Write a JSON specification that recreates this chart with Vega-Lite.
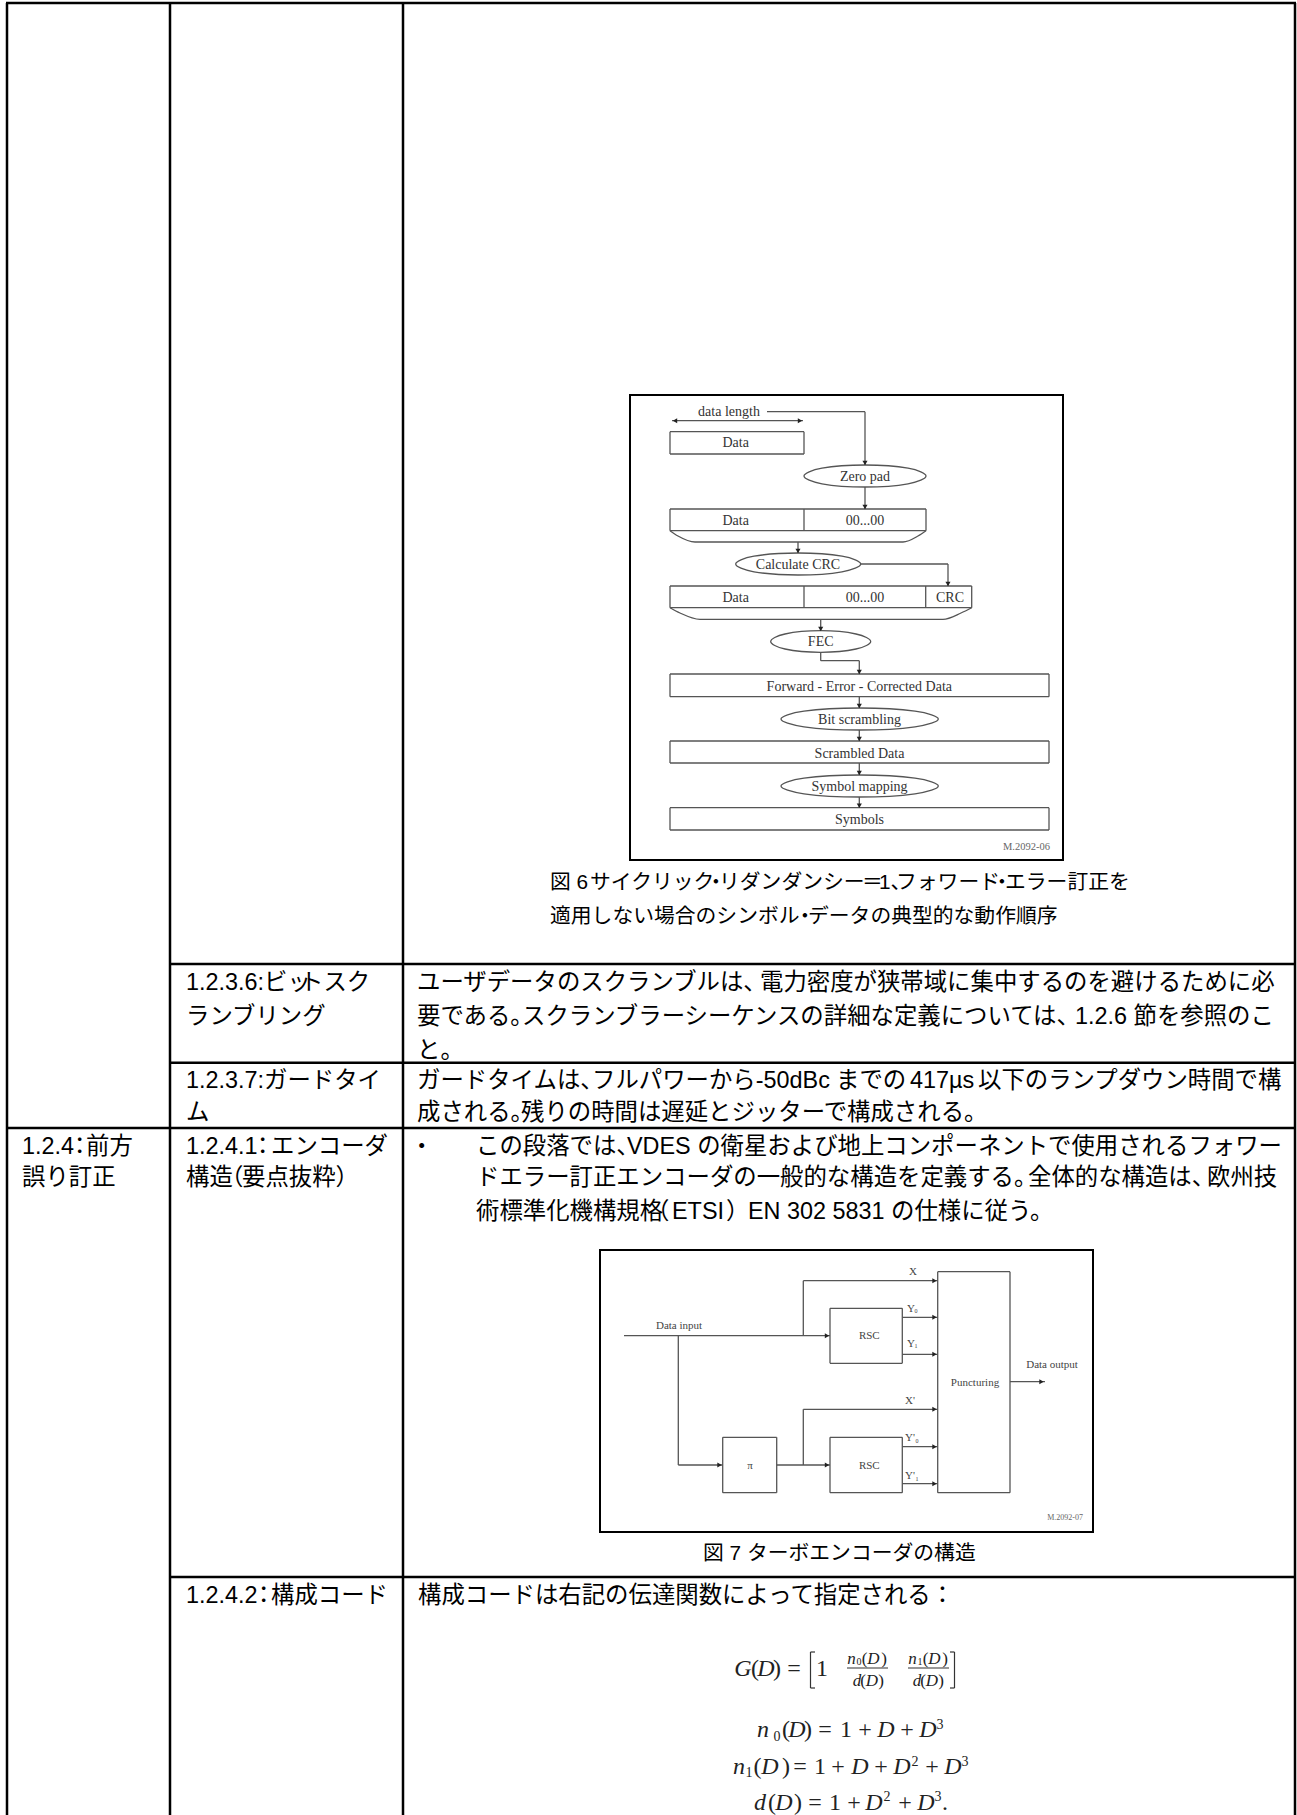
{
"$schema":"https://vega.github.io/schema/vega-lite/v6.json",
"width":1297,"height":1815,"padding":0,"autosize":{"type":"none"},
"background":"white","view":{"stroke":null},
"datasets":{
"table":[
{"x":7,"y":3,"x2":7,"y2":1815},{"x":170,"y":3,"x2":170,"y2":1815},{"x":403,"y":3,"x2":403,"y2":1815},{"x":1295,"y":3,"x2":1295,"y2":1815},
{"x":6,"y":3,"x2":1296,"y2":3},{"x":170,"y":964,"x2":1295,"y2":964},{"x":170,"y":1062.7,"x2":1295,"y2":1062.7},{"x":7,"y":1128,"x2":1295,"y2":1128},{"x":170,"y":1577,"x2":1295,"y2":1577}
],
"frames":[
{"x":629,"y":395,"x2":1064,"y2":395},{"x":629,"y":860,"x2":1064,"y2":860},{"x":630,"y":395,"x2":630,"y2":860},{"x":1063,"y":395,"x2":1063,"y2":860},
{"x":599,"y":1250,"x2":1094,"y2":1250},{"x":599,"y":1532,"x2":1094,"y2":1532},{"x":600,"y":1250,"x2":600,"y2":1532},{"x":1093,"y":1250,"x2":1093,"y2":1532}
],
"seg":[
{"x":672,"y":420.7,"x2":803,"y2":420.7},{"x":767,"y":411.7,"x2":865,"y2":411.7},{"x":865,"y":411.7,"x2":865,"y2":465},
{"x":670,"y":431.7,"x2":804,"y2":431.7},{"x":670,"y":454,"x2":804,"y2":454},{"x":670,"y":431.7,"x2":670,"y2":454},{"x":804,"y":431.7,"x2":804,"y2":454},
{"x":865,"y":487,"x2":865,"y2":509},
{"x":670,"y":509,"x2":926,"y2":509},{"x":670,"y":530.7,"x2":926,"y2":530.7},{"x":670,"y":509,"x2":670,"y2":530.7},{"x":804,"y":509,"x2":804,"y2":530.7},{"x":926,"y":509,"x2":926,"y2":530.7},
{"x":798,"y":542,"x2":798,"y2":553},
{"x":860.7,"y":564,"x2":948,"y2":564},{"x":948,"y":564,"x2":948,"y2":586},
{"x":670,"y":586,"x2":971.7,"y2":586},{"x":670,"y":607.7,"x2":971.7,"y2":607.7},{"x":670,"y":586,"x2":670,"y2":607.7},{"x":804,"y":586,"x2":804,"y2":607.7},{"x":925.7,"y":586,"x2":925.7,"y2":607.7},{"x":971.7,"y":586,"x2":971.7,"y2":607.7},
{"x":820.7,"y":619.3,"x2":820.7,"y2":630.7},
{"x":820.7,"y":652.3,"x2":820.7,"y2":660.7},{"x":820.7,"y":660.7,"x2":859.3,"y2":660.7},{"x":859.3,"y":660.7,"x2":859.3,"y2":674},
{"x":670,"y":674,"x2":1049,"y2":674},{"x":670,"y":696.7,"x2":1049,"y2":696.7},{"x":670,"y":674,"x2":670,"y2":696.7},{"x":1049,"y":674,"x2":1049,"y2":696.7},
{"x":859.3,"y":696.7,"x2":859.3,"y2":708},{"x":859.3,"y":730,"x2":859.3,"y2":741},
{"x":670,"y":741,"x2":1049,"y2":741},{"x":670,"y":763,"x2":1049,"y2":763},{"x":670,"y":741,"x2":670,"y2":763},{"x":1049,"y":741,"x2":1049,"y2":763},
{"x":859.3,"y":763,"x2":859.3,"y2":775},{"x":859.3,"y":797,"x2":859.3,"y2":807.7},
{"x":670,"y":807.7,"x2":1049,"y2":807.7},{"x":670,"y":830,"x2":1049,"y2":830},{"x":670,"y":807.7,"x2":670,"y2":830},{"x":1049,"y":807.7,"x2":1049,"y2":830},
{"x":624,"y":1335.7,"x2":830,"y2":1335.7},{"x":803.3,"y":1335.7,"x2":803.3,"y2":1280.7},{"x":803.3,"y":1280.7,"x2":937.7,"y2":1280.7},
{"x":830,"y":1308.3,"x2":902.3,"y2":1308.3},{"x":830,"y":1363.3,"x2":902.3,"y2":1363.3},{"x":830,"y":1308.3,"x2":830,"y2":1363.3},{"x":902.3,"y":1308.3,"x2":902.3,"y2":1363.3},
{"x":902.3,"y":1317.3,"x2":937.7,"y2":1317.3},{"x":902.3,"y":1354.3,"x2":937.7,"y2":1354.3},
{"x":937.7,"y":1271.7,"x2":1010,"y2":1271.7},{"x":937.7,"y":1492.7,"x2":1010,"y2":1492.7},{"x":937.7,"y":1271.7,"x2":937.7,"y2":1492.7},{"x":1010,"y":1271.7,"x2":1010,"y2":1492.7},
{"x":1010,"y":1381.7,"x2":1045,"y2":1381.7},
{"x":678.3,"y":1335.7,"x2":678.3,"y2":1465},{"x":678.3,"y":1465,"x2":722.7,"y2":1465},
{"x":722.7,"y":1437.3,"x2":776.7,"y2":1437.3},{"x":722.7,"y":1492.7,"x2":776.7,"y2":1492.7},{"x":722.7,"y":1437.3,"x2":722.7,"y2":1492.7},{"x":776.7,"y":1437.3,"x2":776.7,"y2":1492.7},
{"x":776.7,"y":1465,"x2":830,"y2":1465},{"x":803.3,"y":1465,"x2":803.3,"y2":1409.3},{"x":803.3,"y":1409.3,"x2":937.7,"y2":1409.3},
{"x":830,"y":1437.3,"x2":902.3,"y2":1437.3},{"x":830,"y":1492.7,"x2":902.3,"y2":1492.7},{"x":830,"y":1437.3,"x2":830,"y2":1492.7},{"x":902.3,"y":1437.3,"x2":902.3,"y2":1492.7},
{"x":902.3,"y":1446.7,"x2":937.7,"y2":1446.7},{"x":902.3,"y":1483.7,"x2":937.7,"y2":1483.7}
],
"curves":[
{"id":"b1","i":0,"x":670,"y":530.7},{"id":"b1","i":1,"x":678,"y":536},{"id":"b1","i":2,"x":695,"y":542},{"id":"b1","i":3,"x":903,"y":542},{"id":"b1","i":4,"x":918,"y":536},{"id":"b1","i":5,"x":926,"y":530.7},
{"id":"b2","i":0,"x":670,"y":607.7},{"id":"b2","i":1,"x":680,"y":613},{"id":"b2","i":2,"x":700,"y":619.3},{"id":"b2","i":3,"x":943,"y":619.3},{"id":"b2","i":4,"x":961,"y":613},{"id":"b2","i":5,"x":971.7,"y":607.7}
],
"ell":[
{"id":"e1","i":0,"x":926,"y":476},{"id":"e1","i":1,"x":908,"y":483.8},{"id":"e1","i":2,"x":865,"y":487},{"id":"e1","i":3,"x":822,"y":483.8},{"id":"e1","i":4,"x":804,"y":476},{"id":"e1","i":5,"x":822,"y":468.2},{"id":"e1","i":6,"x":865,"y":465},{"id":"e1","i":7,"x":908,"y":468.2},
{"id":"e2","i":0,"x":860.7,"y":564},{"id":"e2","i":1,"x":842,"y":571.8},{"id":"e2","i":2,"x":798,"y":575},{"id":"e2","i":3,"x":754,"y":571.8},{"id":"e2","i":4,"x":735.7,"y":564},{"id":"e2","i":5,"x":754,"y":556.2},{"id":"e2","i":6,"x":798,"y":553},{"id":"e2","i":7,"x":842,"y":556.2},
{"id":"e3","i":0,"x":870.7,"y":641.5},{"id":"e3","i":1,"x":856,"y":649},{"id":"e3","i":2,"x":820.7,"y":652.3},{"id":"e3","i":3,"x":785,"y":649},{"id":"e3","i":4,"x":770.7,"y":641.5},{"id":"e3","i":5,"x":785,"y":634},{"id":"e3","i":6,"x":820.7,"y":630.7},{"id":"e3","i":7,"x":856,"y":634},
{"id":"e4","i":0,"x":938.3,"y":719},{"id":"e4","i":1,"x":915,"y":726.8},{"id":"e4","i":2,"x":859.5,"y":730},{"id":"e4","i":3,"x":804,"y":726.8},{"id":"e4","i":4,"x":781,"y":719},{"id":"e4","i":5,"x":804,"y":711.2},{"id":"e4","i":6,"x":859.5,"y":708},{"id":"e4","i":7,"x":915,"y":711.2},
{"id":"e5","i":0,"x":938.3,"y":786},{"id":"e5","i":1,"x":915,"y":793.8},{"id":"e5","i":2,"x":859.5,"y":797},{"id":"e5","i":3,"x":804,"y":793.8},{"id":"e5","i":4,"x":781,"y":786},{"id":"e5","i":5,"x":804,"y":778.2},{"id":"e5","i":6,"x":859.5,"y":775},{"id":"e5","i":7,"x":915,"y":778.2}
],
"arrows":[
{"x":675,"y":420.7,"d":"left"},{"x":800,"y":420.7,"d":"right"},
{"x":865,"y":463,"d":"down"},{"x":865,"y":507,"d":"down"},{"x":798,"y":551,"d":"down"},{"x":948,"y":584,"d":"down"},{"x":820.7,"y":629,"d":"down"},{"x":859.3,"y":672,"d":"down"},{"x":859.3,"y":706,"d":"down"},{"x":859.3,"y":739,"d":"down"},{"x":859.3,"y":773,"d":"down"},{"x":859.3,"y":805.7,"d":"down"},
{"x":827,"y":1335.7,"d":"right"},{"x":934.5,"y":1280.7,"d":"right"},{"x":934.5,"y":1317.3,"d":"right"},{"x":934.5,"y":1354.3,"d":"right"},{"x":1041.5,"y":1381.7,"d":"right"},{"x":719.5,"y":1465,"d":"right"},{"x":827,"y":1465,"d":"right"},{"x":934.5,"y":1409.3,"d":"right"},{"x":934.5,"y":1446.7,"d":"right"},{"x":934.5,"y":1483.7,"d":"right"}
],
"serif":[
{"t":"data length","x":729,"y":412},{"t":"Data","x":735.7,"y":443},{"t":"Zero pad","x":865,"y":477},{"t":"Data","x":735.7,"y":521},{"t":"00...00","x":865,"y":521},{"t":"Calculate CRC","x":798,"y":565},{"t":"Data","x":735.7,"y":598},{"t":"00...00","x":865,"y":598},{"t":"CRC","x":950,"y":598},{"t":"FEC","x":820.7,"y":642},{"t":"Forward - Error - Corrected Data","x":859.3,"y":687},{"t":"Bit scrambling","x":859.5,"y":720},{"t":"Scrambled Data","x":859.5,"y":754},{"t":"Symbol mapping","x":859.5,"y":787},{"t":"Symbols","x":859.5,"y":820}
],
"serif2":[
{"t":"Data input","x":679,"y":1326},{"t":"Data output","x":1052,"y":1365},{"t":"RSC","x":869.3,"y":1336},{"t":"RSC","x":869.3,"y":1466},{"t":"π","x":750,"y":1466},{"t":"Puncturing","x":975,"y":1383},{"t":"X","x":913,"y":1272},{"t":"Y","x":911,"y":1309},{"t":"Y","x":911,"y":1344},{"t":"X'","x":910,"y":1401},{"t":"Y'","x":910,"y":1438},{"t":"Y'","x":910,"y":1476}
],
"tiny1":[{"t":"M.2092-06","x":1050,"y":847}],
"tiny2":[{"t":"M.2092-07","x":1083,"y":1518}],
"subs":[{"t":"0","x":916,"y":1311},{"t":"1","x":916,"y":1346},{"t":"0","x":917,"y":1441},{"t":"1","x":917,"y":1479}],
"cap":[
{"t":"図 6","x":550,"y":883},{"t":"サイクリック","x":590,"y":883},{"t":"・","x":705.6,"y":883},{"t":"リダンダンシー","x":719,"y":883},{"t":"＝","x":862,"y":883},{"t":"1、","x":879,"y":883},{"t":"フォワード","x":896,"y":883},{"t":"・","x":991.6,"y":883},{"t":"エラー訂正を","x":1005,"y":883},
{"t":"適用しない場合のシンボル","x":550,"y":917},{"t":"・","x":794.5,"y":917},{"t":"データの典型的な動作順序","x":808,"y":917},
{"t":"図 7 ターボエンコーダの構造","x":703,"y":1554}
],
"jp":[
{"t":"1.2.3.6:ビッ","x":186,"y":983},{"t":"トスク","x":300,"y":983},{"t":"ランブリング","x":186,"y":1017},
{"t":"ユーザデータのスクランブルは、","x":417,"y":983},{"t":"電力密度が狭帯域に集中するのを避けるために必","x":760,"y":983},
{"t":"要である。","x":417,"y":1017},{"t":"スクランブラーシーケンスの詳細な定義については、","x":522,"y":1017},{"t":"1.2.6 節を参照のこ","x":1075,"y":1017},
{"t":"と。","x":417,"y":1051},
{"t":"1.2.3.7:ガードタイ","x":186,"y":1081},{"t":"ム","x":186,"y":1113},
{"t":"ガードタイムは、","x":417,"y":1081},{"t":"フルパワーから-50dBc","x":592,"y":1081},{"t":"までの","x":836,"y":1081},{"t":"417µs","x":910,"y":1081},{"t":"以下のランプダウン時間で構","x":978,"y":1081},
{"t":"成される。","x":417,"y":1113},{"t":"残りの時間は遅延とジッターで構成される。","x":521,"y":1113},
{"t":"1.2.4","x":22,"y":1147},{"t":"：","x":68,"y":1147},{"t":"前方","x":86,"y":1147},{"t":"誤り訂正","x":22,"y":1178},
{"t":"1.2.4.1","x":186,"y":1147},{"t":"：","x":251,"y":1147},{"t":"エンコーダ","x":271,"y":1147},
{"t":"構造","x":186,"y":1178},{"t":"（","x":220,"y":1178},{"t":"要点抜粋","x":242,"y":1178},{"t":"）","x":335.5,"y":1178},
{"t":"・","x":410,"y":1147},
{"t":"この段落では、","x":476,"y":1147},{"t":"VDES の衛星および地上コンポーネントで使用されるフォワー","x":627,"y":1147},
{"t":"ドエラー訂正エンコーダの一般的な構造を定義する。","x":476,"y":1178},{"t":"全体的な構造は、","x":1028,"y":1178},{"t":"欧州技","x":1207,"y":1178},
{"t":"術標準化機構規格","x":476,"y":1212},{"t":"（","x":646,"y":1212},{"t":"ETSI","x":672,"y":1212},{"t":"）","x":726,"y":1212},{"t":"EN 302 5831 の仕様に従う。","x":748,"y":1212},
{"t":"1.2.4.2","x":186,"y":1596},{"t":"：","x":252,"y":1596},{"t":"構成コード","x":271,"y":1596},
{"t":"構成コードは右記の伝達関数によって指定される：","x":418,"y":1596}
],
"mi":[
{"t":"G","x":743,"y":1669},{"t":"D","x":766,"y":1669},
{"t":"n","x":763,"y":1730},{"t":"D","x":797,"y":1730},{"t":"D","x":886,"y":1730},{"t":"D","x":928,"y":1730},
{"t":"n","x":739,"y":1767},{"t":"D","x":770,"y":1767},{"t":"D","x":860,"y":1767},{"t":"D","x":902,"y":1767},{"t":"D","x":953,"y":1767},
{"t":"d","x":760,"y":1803},{"t":"D","x":784,"y":1803},{"t":"D","x":874,"y":1803},{"t":"D","x":926,"y":1803}
],
"mis":[
{"t":"n","x":851.5,"y":1659},{"t":"D","x":873.5,"y":1659},{"t":"d","x":857,"y":1681},{"t":"D","x":872,"y":1681},{"t":"n","x":912.5,"y":1659},{"t":"D","x":934.5,"y":1659},{"t":"d","x":917,"y":1681},{"t":"D","x":932,"y":1681}
],
"mr":[
{"t":"(","x":755,"y":1669},{"t":")","x":777,"y":1669},{"t":"=","x":794,"y":1669},{"t":"1","x":822,"y":1669},
{"t":"(","x":786,"y":1730},{"t":")","x":808,"y":1730},{"t":"=","x":825,"y":1730},{"t":"1","x":846,"y":1730},{"t":"+","x":865,"y":1730},{"t":"+","x":907,"y":1730},
{"t":"(","x":757.5,"y":1767},{"t":")","x":786,"y":1767},{"t":"=","x":800,"y":1767},{"t":"1","x":820,"y":1767},{"t":"+","x":838,"y":1767},{"t":"+","x":881,"y":1767},{"t":"+","x":932,"y":1767},
{"t":"(","x":772,"y":1803},{"t":")","x":798,"y":1803},{"t":"=","x":815,"y":1803},{"t":"1","x":835,"y":1803},{"t":"+","x":854,"y":1803},{"t":"+","x":905,"y":1803},{"t":".","x":945,"y":1803}
],
"ms":[
{"t":"3","x":940,"y":1725},{"t":"0","x":777,"y":1737},
{"t":"1","x":749,"y":1773},{"t":"2","x":915,"y":1762},{"t":"3","x":965,"y":1762},
{"t":"2","x":887,"y":1797},{"t":"3","x":938,"y":1797}
],
"msm":[
{"t":"(","x":864.5,"y":1659},{"t":")","x":884,"y":1659},{"t":"(","x":863,"y":1681},{"t":")","x":881,"y":1681},{"t":"(","x":925.5,"y":1659},{"t":")","x":945,"y":1659},{"t":"(","x":923,"y":1681},{"t":")","x":941,"y":1681}
],
"mss":[{"t":"0","x":859,"y":1662},{"t":"1","x":920,"y":1662}],
"mlines":[
{"x":847,"y":1668,"x2":888,"y2":1668},{"x":908,"y":1668,"x2":949,"y2":1668},
{"x":810.5,"y":1652,"x2":810.5,"y2":1688},{"x":810.5,"y":1652,"x2":815,"y2":1652},{"x":810.5,"y":1688,"x2":815,"y2":1688},
{"x":954.5,"y":1652,"x2":954.5,"y2":1688},{"x":950,"y":1652,"x2":954.5,"y2":1652},{"x":950,"y":1688,"x2":954.5,"y2":1688}
]
},
"encoding":{
"x":{"field":"x","type":"quantitative","axis":null,"scale":{"domain":[0,1297],"nice":false,"zero":false}},
"y":{"field":"y","type":"quantitative","axis":null,"scale":{"domain":[1815,0],"nice":false,"zero":false}}
},
"layer":[
{"data":{"name":"seg"},"mark":{"type":"rule","stroke":"#555","strokeWidth":1.3},"encoding":{"x2":{"field":"x2"},"y2":{"field":"y2"}}},
{"data":{"name":"curves"},"mark":{"type":"line","stroke":"#555","strokeWidth":1.3,"interpolate":"monotone"},"encoding":{"detail":{"field":"id"},"order":{"field":"i"}}},
{"data":{"name":"ell"},"mark":{"type":"line","stroke":"#555","strokeWidth":1.3,"interpolate":"cardinal-closed","tension":0},"encoding":{"detail":{"field":"id"},"order":{"field":"i"}}},
{"data":{"name":"arrows"},"mark":{"type":"point","filled":true,"size":26,"opacity":1,"color":"#222"},"encoding":{"shape":{"field":"d","legend":null,"scale":{"domain":["right","down","left"],"range":["triangle-right","triangle-down","triangle-left"]}}}},
{"data":{"name":"table"},"mark":{"type":"rule","stroke":"black","strokeWidth":2.5},"encoding":{"x2":{"field":"x2"},"y2":{"field":"y2"}}},
{"data":{"name":"frames"},"mark":{"type":"rule","stroke":"black","strokeWidth":2},"encoding":{"x2":{"field":"x2"},"y2":{"field":"y2"}}},
{"data":{"name":"mlines"},"mark":{"type":"rule","stroke":"#333","strokeWidth":1.2},"encoding":{"x2":{"field":"x2"},"y2":{"field":"y2"}}},
{"data":{"name":"serif"},"mark":{"type":"text","font":"Liberation Serif","fontSize":14,"color":"#333","align":"center","baseline":"middle"},"encoding":{"text":{"field":"t"}}},
{"data":{"name":"serif2"},"mark":{"type":"text","font":"Liberation Serif","fontSize":11,"color":"#444","align":"center","baseline":"middle"},"encoding":{"text":{"field":"t"}}},
{"data":{"name":"subs"},"mark":{"type":"text","font":"Liberation Serif","fontSize":6,"color":"#444","align":"center","baseline":"middle"},"encoding":{"text":{"field":"t"}}},
{"data":{"name":"tiny1"},"mark":{"type":"text","font":"Liberation Serif","fontSize":10.5,"color":"#666","align":"right","baseline":"middle"},"encoding":{"text":{"field":"t"}}},
{"data":{"name":"tiny2"},"mark":{"type":"text","font":"Liberation Serif","fontSize":8,"color":"#666","align":"right","baseline":"middle"},"encoding":{"text":{"field":"t"}}},
{"data":{"name":"cap"},"mark":{"type":"text","font":"Liberation Sans, Noto Sans CJK JP","fontSize":20.8,"color":"black","align":"left","baseline":"middle"},"encoding":{"text":{"field":"t"}}},
{"data":{"name":"jp"},"mark":{"type":"text","font":"Liberation Sans, Noto Sans CJK JP","fontSize":23.4,"color":"black","align":"left","baseline":"middle"},"encoding":{"text":{"field":"t"}}},
{"data":{"name":"mi"},"mark":{"type":"text","font":"Liberation Serif","fontStyle":"italic","fontSize":24,"color":"#222","align":"center","baseline":"middle"},"encoding":{"text":{"field":"t"}}},
{"data":{"name":"mis"},"mark":{"type":"text","font":"Liberation Serif","fontStyle":"italic","fontSize":17,"color":"#222","align":"center","baseline":"middle"},"encoding":{"text":{"field":"t"}}},
{"data":{"name":"mr"},"mark":{"type":"text","font":"Liberation Serif","fontSize":24,"color":"#222","align":"center","baseline":"middle"},"encoding":{"text":{"field":"t"}}},
{"data":{"name":"ms"},"mark":{"type":"text","font":"Liberation Serif","fontSize":14,"color":"#222","align":"center","baseline":"middle"},"encoding":{"text":{"field":"t"}}},
{"data":{"name":"msm"},"mark":{"type":"text","font":"Liberation Serif","fontSize":17,"color":"#222","align":"center","baseline":"middle"},"encoding":{"text":{"field":"t"}}},
{"data":{"name":"mss"},"mark":{"type":"text","font":"Liberation Serif","fontSize":10,"color":"#222","align":"center","baseline":"middle"},"encoding":{"text":{"field":"t"}}}
]
}
